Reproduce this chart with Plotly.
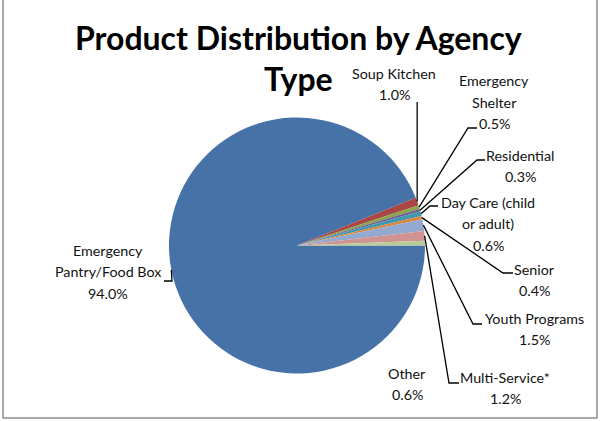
import math
import plotly.graph_objects as go

# ---- data ----
categories = ["Emergency Pantry/Food Box", "Soup Kitchen", "Emergency Shelter",
              "Residential", "Day Care (child or adult)", "Senior",
              "Youth Programs", "Multi-Service*", "Other"]
values = [94.0, 1.0, 0.5, 0.3, 0.6, 0.4, 1.5, 1.2, 0.6]
label_lines = [["Emergency", "Pantry/Food Box"], ["Soup Kitchen"], ["Emergency", "Shelter"],
               ["Residential"], ["Day Care (child", "or adult)"], ["Senior"],
               ["Youth Programs"], ["Multi-Service*"], ["Other"]]
colors = ["#4672A8", "#AA4643", "#89A54E", "#71588F", "#4198AF",
          "#DB843D", "#93A9CF", "#D19392", "#B9CD96"]

W, H = 600, 421
CX, CY, R = 297, 245.5, 128  # pie placement (pixels)
FONT = "Lato, Carlito, 'Open Sans', sans-serif"

# label layout: (center x, first line y), leader elbow, leader end (pixels)
label_pos = [(108, 250), (394, 73), (494, 81), (520, 155), (488, 202),
             (534, 269), (534, 318), (505, 377), (407, 373)]
leader = [((172, 281), (164, 281)), ((None, 102), None), ((468, 128), (477, 128)),
          ((477, 160), (485, 160)), ((430, 206), (438, 206)), ((503, 273), (513, 273)),
          ((473, 324), (482, 324)), ((449, 383), (459, 383)), None]
LINE_H = 21.5


def px(x):
    return x / W


def py(y):
    return 1 - y / H


fig = go.Figure(go.Pie(
    labels=categories, values=values, sort=False, direction="clockwise",
    rotation=90, textinfo="none", hoverinfo="label+percent",
    marker=dict(colors=colors, line=dict(width=0)),
    domain=dict(x=[px(CX - R), px(CX + R)], y=[py(CY + R), py(CY - R)]),
    showlegend=False,
))

annotations = []
shapes = []

# title
for txt, ty in (("<b>Product Distribution by Agency</b>", 38), ("<b>Type</b>", 79)):
    annotations.append(dict(text=txt, x=px(298), y=py(ty),
                            xref="paper", yref="paper", showarrow=False, xanchor="center",
                            yanchor="middle", font=dict(family=FONT, size=32, color="#000")))

total = sum(values)
cum = 0.0
for i, v in enumerate(values):
    mid = 90 + (cum + v / 2) / total * 360
    cum += v
    a = math.radians(mid)
    sx, sy = CX + R * math.sin(a), CY - R * math.cos(a)
    lines = label_lines[i] + [f"{v:.1f}%"]
    lx, ly = label_pos[i]
    for k, t in enumerate(lines):
        annotations.append(dict(text=t, x=px(lx), y=py(ly + k * LINE_H), xref="paper",
                                yref="paper", showarrow=False, xanchor="center",
                                yanchor="middle",
                                font=dict(family=FONT, size=14.3, color="#111")))
    if leader[i] is not None:
        elbow, end = leader[i]
        ex = sx if elbow[0] is None else elbow[0]
        path = f"M {px(sx)} {py(sy)} L {px(ex)} {py(elbow[1])}"
        if end is not None:
            path += f" L {px(end[0])} {py(end[1])}"
        shapes.append(dict(type="path", path=path, xref="paper", yref="paper",
                           line=dict(color="#000", width=1.3)))

# chart frame
shapes.append(dict(type="rect", xref="paper", yref="paper", x0=px(3), x1=px(597),
                   y0=py(418), y1=py(-5), line=dict(color="#8c8c8c", width=1.5)))

fig.update_layout(width=W, height=H, margin=dict(l=0, r=0, t=0, b=0),
                  paper_bgcolor="white", plot_bgcolor="white",
                  annotations=annotations, shapes=shapes)
fig.write_html("out.html", config={"displayModeBar": False},
               post_script="document.body.style.margin='0';document.body.style.overflow='hidden';")
